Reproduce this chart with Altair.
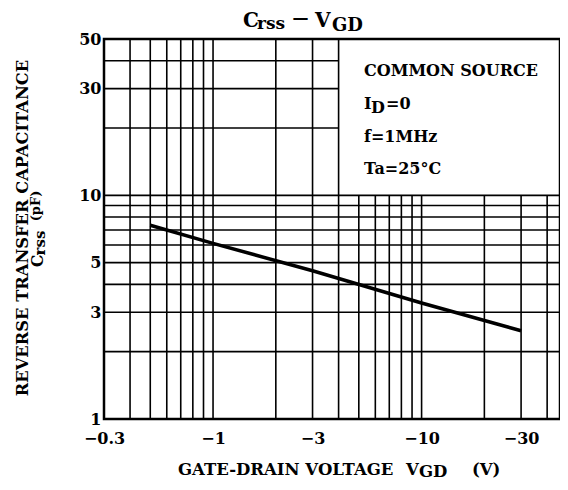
import altair as alt
import pandas as pd

# ---- data ----
vgd_abs = [0.5, 1, 3, 10, 30]          # |VGD| (V)
crss = [7.35, 6.1, 4.6, 3.3, 2.48]     # pF

x_grid = [0.4, 0.5, 0.6, 0.7, 0.8, 0.9, 1, 2, 3, 4, 5, 6, 7, 8, 9, 10, 20, 30, 40]
y_grid = [2, 3, 4, 5, 6, 7, 8, 9, 10, 20, 30, 40]
x_ticks = [0.3, 1, 3, 10, 30]
y_ticks = [1, 3, 5, 10, 30, 50]
x_dom = [0.3, 46.1]   # the reference is cut at the right edge just past -40
y_dom = [1, 50]
box_x = 4     # the legend box starts at this voltage
box_y = 10    # and sits above this capacitance

FONT = "DejaVu Serif"

line_df = pd.DataFrame({"v": vgd_abs, "c": crss})

vrows = [{"x": xv, "y0": y_dom[0], "y1": (y_dom[1] if xv <= box_x else box_y)} for xv in x_grid]
hrows = [{"y": yv, "x0": x_dom[0], "x1": (x_dom[1] if yv <= box_y else box_x)} for yv in y_grid]

xs = alt.Scale(type="log", domain=x_dom, nice=False, zero=False)
ys = alt.Scale(type="log", domain=y_dom, nice=False, zero=False)

xaxis = alt.Axis(values=x_ticks, labelExpr="'−' + datum.value", title=None, grid=False,
                 ticks=False, domain=False, labelFont=FONT, labelFontWeight="bold",
                 labelFontSize=16, labelColor="black", labelPadding=11, labelFlush=False)
yaxis = alt.Axis(values=y_ticks, title=None, grid=False, ticks=False, domain=False,
                 labelFont=FONT, labelFontWeight="bold", labelFontSize=16,
                 labelColor="black", labelPadding=3, labelFlush=False)

vgrid = alt.Chart(pd.DataFrame(vrows)).mark_rule(color="black", strokeWidth=1.6).encode(
    x=alt.X("x:Q", scale=xs, axis=xaxis),
    y=alt.Y("y0:Q", scale=ys, axis=yaxis),
    y2="y1:Q",
)
hgrid = alt.Chart(pd.DataFrame(hrows)).mark_rule(color="black", strokeWidth=1.6).encode(
    y=alt.Y("y:Q", scale=ys),
    x=alt.X("x0:Q", scale=xs),
    x2="x1:Q",
)
curve = alt.Chart(line_df).mark_line(color="black", strokeWidth=3.5, strokeCap="butt").encode(
    x=alt.X("v:Q", scale=xs),
    y=alt.Y("c:Q", scale=ys),
)

one = pd.DataFrame({"a": [0]})


def txt(s, x, y, size, align="left", baseline="alphabetic", angle=0):
    return alt.Chart(one).mark_text(
        text=s, font=FONT, fontWeight="bold", fontSize=size, color="black",
        align=align, baseline=baseline, angle=angle,
    ).encode(x=alt.value(x), y=alt.value(y))


texts = [
    # title
    txt("C", 139, -12, 20),
    txt("rss", 153, -10, 17),
    txt("—", 196.5, -15, 16, align="center"),
    txt("V", 211, -12, 20),
    txt("GD", 228, -8, 18),
    # legend box
    txt("COMMON SOURCE", 260, 37, 16),
    txt("I", 260, 70, 16),
    txt("D", 267, 74, 16),
    txt("=0", 282, 70, 16),
    txt("f=1MHz", 260, 103, 16),
    txt("Ta=25°C", 260, 135, 16),
    # x title
    txt("GATE-DRAIN VOLTAGE", 74, 436, 16.5),
    txt("V", 302, 436, 16.5),
    txt("GD", 315, 438, 16.5),
    txt("(V)", 368, 436, 16.5),
    # y title
    txt("REVERSE TRANSFER CAPACITANCE", -76, 189, 16.3, align="center", angle=270),
    txt("C", -61, 222, 16, align="center", angle=270),
    txt("rss", -59, 204, 15, align="center", angle=270),
    txt("(pF)", -64, 167, 13, align="center", angle=270),
]

chart = alt.layer(vgrid, hgrid, curve, *texts).properties(
    width=456, height=380,
    background="white",
    autosize=alt.AutoSizeParams(type="none"),
    padding={"left": 96, "top": 31, "right": 0, "bottom": 63},
).configure_view(stroke="black", strokeWidth=2.5)

chart.save("out.html", embed_options={"renderer": "svg", "actions": False})
